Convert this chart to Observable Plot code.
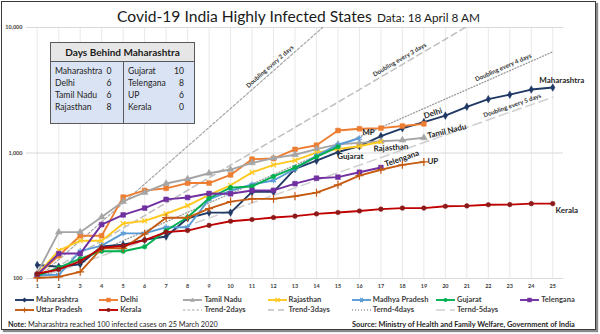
<!DOCTYPE html>
<html><head><meta charset="utf-8">
<script src="https://cdn.jsdelivr.net/npm/d3@7"></script>
<script src="https://cdn.jsdelivr.net/npm/@observablehq/plot@0.6"></script>
<style>
html,body{margin:0;padding:0;background:#fff;}
#wrap{position:relative;width:600px;height:334px;overflow:hidden;font-family:Lato,"Open Sans",sans-serif;color:#262626;background:#fff;}
#chart{position:absolute;left:0;top:0;}
#frame{position:absolute;left:1px;top:1px;width:593px;height:327px;border:1px solid #3a3a3a;box-shadow:2px 2px 1px #8a8a8a;pointer-events:none;}
.abs{position:absolute;white-space:nowrap;line-height:1;}
#tbl{position:absolute;left:50px;top:42px;width:145px;height:82px;box-sizing:border-box;border:1px solid #595959;background:#dae3f3;}
#tbl .hd{height:19px;box-sizing:border-box;border-bottom:1px solid #595959;background:#e7e6e6;font-weight:bold;font-size:10px;text-align:center;line-height:18px;color:#1a1a1a;}
#tbl .col{position:absolute;top:19px;bottom:0;}
#tbl .row{position:absolute;font-size:8.6px;line-height:1;color:#222;}
.leg{position:absolute;font-size:7.5px;font-weight:bold;color:#404040;white-space:nowrap;line-height:1;display:flex;align-items:center;}
.leg svg{margin-right:2px;}
</style></head>
<body>
<div id="wrap">
  <div id="chart"></div>
  <span class="abs" id="title" style="left:117px;top:9px;font-size:17px;color:#1a1a1a;">Covid-19 India Highly Infected States</span>
  <span class="abs" id="sub" style="left:377px;top:12px;font-size:12px;color:#1a1a1a;">Data: 18 April 8 AM</span>
  <div id="tbl"></div>
  <div id="legend"></div>
  <span class="abs" id="note" style="left:8px;top:321px;font-size:7px;color:#262626;"><b>Note:</b> Maharashtra reached 100 infected cases on 25 March 2020</span>
  <span class="abs" id="source" style="left:352px;top:321px;font-size:7px;font-weight:bold;color:#262626;">Source: Ministry of Health and Family Welfare, Government of India</span>
  <div id="frame"></div>
</div>
<script>
// ---------------- data ----------------
const dayTicks = [1,2,3,4,5,6,7,8,9,10,11,12,13,14,15,16,17,18,19,20,21,22,23,24,25];
const valueTicks = [100, 1000, 10000];
const states = ["Maharashtra","Delhi","Tamil Nadu","Rajasthan","Madhya Pradesh","Gujarat","Telengana","Uttar Pradesh","Kerala"];
const maharashtra = [128,124,130,180,186,203,216,302,335,335,490,490,748,868,1018,1135,1364,1574,1761,1985,2334,2684,2916,3202,3323];
const delhi = [106,152,219,219,445,503,523,576,576,669,893,903,1069,1154,1510,1561,1578,1640,1707];
const tamilNadu = [110,234,234,309,411,485,571,621,690,738,834,911,969,1075,1173,1204,1242,1267,1323];
const rajasthan = [108,167,200,200,274,288,328,381,463,553,700,804,873,1005,1076,1131,1229];
const madhyaPradesh = [106,107,165,183,229,229,256,256,427,500,562,604,748,954,1164,1310];
const gujarat = [105,122,144,165,165,179,241,308,436,530,541,650,766,930,1120];
const telengana = [107,158,158,269,321,364,427,442,476,473,503,504,570,630,642,703,766];
const uttarPradesh = [101,103,113,174,174,227,305,305,361,410,431,431,452,483,558,660,735,805,849];
const kerala = [109,118,137,176,182,202,234,241,265,286,295,306,314,327,336,345,357,364,364,376,379,387,388,395,395];
const behindNames = ["Maharashtra","Delhi","Tamil Nadu","Rajasthan","Gujarat","Telengana","UP","Kerala"];
const behindDays = [0,6,6,8,10,8,6,0];
const doublingDays = [2,3,4,5];
const trendNames = ["Trend-2days","Trend-3days","Ternd-4days","Ternd-5days"];
const trendLabels = ["Doubling every 2 days","Doubling every 3 days","Doubling every 4 days","Doubling every 5 days"];

// ---------------- styles ----------------
const seriesValues = [maharashtra,delhi,tamilNadu,rajasthan,madhyaPradesh,gujarat,telengana,uttarPradesh,kerala];
const seriesStyle = [
  {color:"#1f3864", sym:"diamond", r:2.3, label:"Maharashtra", dx:9, dy:-7, rot:0},
  {color:"#ed7d31", sym:"square", r:2.7, label:"Delhi", dx:9, dy:-10.5, rot:-18},
  {color:"#a5a5a5", sym:"triangle", r:2.5, label:"Tamil Nadu", dx:23, dy:-6.5, rot:-14},
  {color:"#ffc820", sym:"times", r:2.3, line:true, label:"Rajasthan", dx:10, dy:6, rot:-4},
  {color:"#5b9bd5", sym:"asterisk", r:2.7, line:true, label:"MP", dx:9, dy:-5.5, rot:0},
  {color:"#00b050", sym:"circle", r:2.3, label:"Gujarat", dx:12.5, dy:9.5, rot:0},
  {color:"#7030a0", sym:"square", r:2.7, label:"Telengana", dx:21, dy:-9, rot:-19},
  {color:"#c55a11", sym:"plus", r:2.7, line:true, label:"UP", dx:9, dy:0, rot:0},
  {color:"#c00000", sym:"circle", r:2.3, mfill:"#8b1a1a", label:"Kerala", dx:14, dy:6.5, rot:0}
];
const trendStyle = [
  {stroke:"#a6a6a6", dash:"2.5,2", w:1.2, at:12},
  {stroke:"#bfbfbf", dash:"6,4", w:1.5, at:18},
  {stroke:"#9a9a9a", dash:"1,2", w:1.3, at:22.8},
  {stroke:"#cfcfcf", dash:"9,5", w:1.5, at:23.2}
];

const W = 600, H = 334, mL = 26, mR = 37, mT = 27, mB = 56;
const pxPerDay = (W - mL - mR) / 25;
const pxPerDecade = (H - mT - mB) / 2;

const rows = states.map((s, i) => seriesValues[i].map((v, j) => ({state: s, day: j + 1, value: v})));

const marks = [
  Plot.ruleX(dayTicks, {stroke: "#e9e9e9", strokeWidth: 1}),
  Plot.ruleY(valueTicks, {stroke: "#d9d9d9", strokeWidth: 1}),
  Plot.axisX(dayTicks, {anchor: "bottom", tickSize: 0, tickPadding: 6, fontSize: 5.5, fontWeight: "bold", color: "#404040", label: null}),
  Plot.axisY(valueTicks, {anchor: "left", tickSize: 0, tickPadding: 4, fontSize: 5.5, fontWeight: "bold", color: "#404040", tickFormat: d3.format(","), label: null})
];

// doubling trend lines (straight on a log scale)
doublingDays.forEach((n, k) => {
  const endDay = Math.min(25, 1 + n * Math.log2(100));
  const pts = [{day: 1, value: 100}, {day: endDay, value: 100 * 2 ** ((endDay - 1) / n)}];
  const st = trendStyle[k];
  marks.push(Plot.line(pts, {x: "day", y: "value", stroke: st.stroke, strokeWidth: st.w, strokeDasharray: st.dash}));
  const ang = Math.atan((pxPerDecade * Math.log10(2) / n) / pxPerDay);
  const off = 5.5;
  marks.push(Plot.text([{day: st.at, value: 100 * 2 ** ((st.at - 1) / n)}], {
    x: "day", y: "value", text: () => trendLabels[k], rotate: -ang * 180 / Math.PI,
    dx: -Math.sin(ang) * off, dy: -Math.cos(ang) * off,
    fontSize: 6.2, fontWeight: "bold", fill: "#333", textAnchor: "middle", lineAnchor: "middle"
  }));
});

rows.forEach((data, i) => {
  const st = seriesStyle[i];
  marks.push(Plot.line(data, {x: "day", y: "value", stroke: st.color, strokeWidth: 1.9}));
  if (st.line) {
    marks.push(Plot.dot(data, {x: "day", y: "value", symbol: st.sym, r: st.r, stroke: st.color, strokeWidth: 1.2, fill: "none"}));
  } else {
    marks.push(Plot.dot(data, {x: "day", y: "value", symbol: st.sym, r: st.r, fill: st.mfill || st.color, stroke: st.mfill || st.color, strokeWidth: 0.5}));
  }
});
rows.forEach((data, i) => {
  const st = seriesStyle[i];
  marks.push(Plot.text([data[data.length - 1]], {x: "day", y: "value", text: () => st.label, dx: st.dx, dy: st.dy, rotate: st.rot,
    fontSize: 8, fontWeight: "bold", fill: "#262626", textAnchor: "middle", lineAnchor: "middle"}));
});

const chart = Plot.plot({
  width: W, height: H,
  marginLeft: mL, marginRight: mR, marginTop: mT, marginBottom: mB,
  x: {type: "linear", domain: [0.5, 25.5], axis: null},
  y: {type: "log", domain: [100, 10000], axis: null},
  style: {fontFamily: "Lato, 'Open Sans', sans-serif", background: "transparent", overflow: "visible"},
  marks
});
document.getElementById("chart").appendChild(chart);

// ---------------- table ----------------
const tbl = document.getElementById("tbl");
tbl.innerHTML = '<div class="hd" id="hd">Days Behind Maharashtra</div>';
const leftCol = document.createElement("div"); leftCol.className = "col"; leftCol.style.left = "0px"; leftCol.style.width = "72px"; leftCol.style.borderRight = "1px solid #595959";
const rightCol = document.createElement("div"); rightCol.className = "col"; rightCol.style.left = "73px"; rightCol.style.right = "0px";
tbl.appendChild(leftCol); tbl.appendChild(rightCol);
behindNames.forEach((nm, i) => {
  const col = i < 4 ? leftCol : rightCol;
  const r = i % 4;
  const top = 4.5 + r * 12.2;
  const a = document.createElement("span"); a.className = "row"; a.textContent = nm; a.style.left = "4px"; a.style.top = top + "px";
  const b = document.createElement("span"); b.className = "row"; b.textContent = behindDays[i]; b.style.right = (i < 4 ? 11.5 : 10) + "px"; b.style.top = top + "px";
  col.appendChild(a); col.appendChild(b);
});

// ---------------- legend ----------------
const legend = document.getElementById("legend");
const legItems = [];
states.forEach((s, i) => legItems.push({name: s, st: seriesStyle[i], series: true}));
trendNames.forEach((t, k) => legItems.push({name: t, st: trendStyle[k], series: false}));
const symPath = {
  diamond: "M0,-2.6L2.6,0L0,2.6L-2.6,0Z", square: "M-2.2,-2.2H2.2V2.2H-2.2Z", triangle: "M0,-2.6L2.4,1.8H-2.4Z",
  circle: "M2,0A2,2 0 1 1 -2,0A2,2 0 1 1 2,0", times: "M-2,-2L2,2M2,-2L-2,2", plus: "M-2.5,0H2.5M0,-2.5V2.5",
  asterisk: "M-2.5,0H2.5M-1.3,-2.2L1.3,2.2M1.3,-2.2L-1.3,2.2"
};
legItems.forEach((it, idx) => {
  const col = idx % 7, row = Math.floor(idx / 7);
  const el = document.createElement("div"); el.className = "leg";
  el.style.left = (15 + col * 84.2) + "px"; el.style.top = (296 + row * 10) + "px"; el.style.height = "8px";
  let svg;
  if (it.series) {
    const st = it.st, lineSym = st.line;
    svg = `<svg width="19" height="8"><line x1="0" y1="4" x2="19" y2="4" stroke="${st.color}" stroke-width="1.9"/>` +
      `<path transform="translate(9.5,4)" d="${symPath[st.sym]}" ${lineSym ? `fill="none" stroke="${st.color}" stroke-width="1.1"` : `fill="${st.mfill || st.color}"`}/></svg>`;
  } else {
    const st = it.st;
    svg = `<svg width="19" height="8"><line x1="0" y1="4" x2="19" y2="4" stroke="${st.stroke}" stroke-width="${st.w}" stroke-dasharray="${st.dash}"/></svg>`;
  }
  el.innerHTML = svg + `<span>${it.name}</span>`;
  legend.appendChild(el);
});

// ---------------- fit text widths to the reference ----------------
function fit(id, target) {
  const el = document.getElementById(id);
  const w = el.getBoundingClientRect().width;
  const fs = parseFloat(getComputedStyle(el).fontSize);
  el.style.fontSize = (fs * target / w) + "px";
}
fit("title", 255); fit("sub", 103); fit("note", 210); fit("source", 223);
</script>
</body></html>
